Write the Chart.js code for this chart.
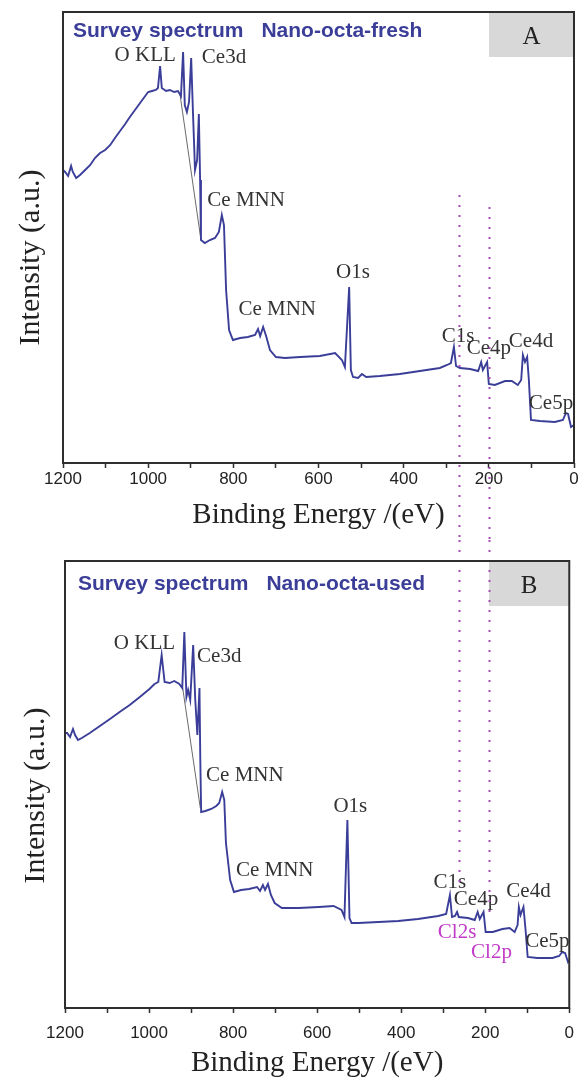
<!DOCTYPE html>
<html lang="en">
<head>
  <meta charset="UTF-8">
  <title>XPS survey spectra</title>
  <script src="https://cdn.jsdelivr.net/npm/chart.js"></script>
  <style>
    body { margin: 0; background: #fff; }
    .wrap { position: relative; width: 584px; height: 1085px; }
    canvas { position: absolute; left: 0; }
    #fresh { top: 0; }
    #used { top: 540px; }
  </style>
</head>
<body>
<div class="wrap">
  <canvas id="fresh" width="584" height="540"></canvas>
  <canvas id="used" width="584" height="545"></canvas>
</div>
<script>
// Survey spectrum, fresh sample: binding energy (eV) and intensity (a.u.)
const freshEnergy = [1200,1195,1188,1181,1177,1169,1160,1148,1136,1125,
  1113,1101,1089,1078,1066,1054,1043,1031,1019,1007,
  1000,991,982,977,972,968,958,949,939,930,
  923,918,914,909,904,899,895,890,885,881,
  878,876,867,855,843,834,827,822,817,810,
  801,784,766,749,742,737,730,723,714,700,
  679,643,597,561,545,538,528,524,519,507,
  498,488,456,409,362,315,298,289,282,277,
  268,244,225,218,214,204,200,186,162,146,
  132,124,120,115,110,106,101,80,45,26,
  19,14,7,0];
const freshCounts = [293,291,287,297,291,285,288,293,298,305,
  310,313,318,325,332,339,346,353,360,367,
  371,372,373,375,397,375,372,373,371,372,
  367,411,358,351,361,405,353,293,303,349,
  283,223,220,223,225,231,248,238,173,133,
  123,125,126,128,134,127,136,127,113,106,
  105,106,107,110,103,96,176,93,86,85,
  89,86,87,89,92,95,98,100,116,97,
  95,94,92,101,93,101,79,78,82,82,
  78,83,108,101,106,83,43,42,41,43,
  50,49,36,38];

// Survey spectrum, used sample
const usedEnergy = [1200,1195,1188,1181,1176,1169,1160,1141,1117,1093,
  1070,1046,1022,999,987,978,970,963,951,940,
  928,921,916,911,907,902,895,890,885,880,
  878,876,866,852,840,833,826,821,817,807,
  798,781,762,743,736,729,724,717,710,701,
  684,644,596,561,542,535,528,523,518,502,
  454,407,360,312,293,284,279,272,267,263,
  241,225,218,213,204,199,182,159,142,130,
  123,120,116,109,104,99,76,40,24,17,
  10,3,0];
const usedCounts = [275,275,271,279,273,268,270,275,282,289,
  296,303,311,319,324,326,353,326,325,327,
  324,320,376,311,318,308,363,308,273,320,
  248,196,197,199,202,205,216,208,165,128,
  116,118,119,121,117,123,118,124,113,105,
  100,100,101,102,98,91,188,90,85,85,
  86,87,89,92,94,113,91,92,96,91,
  90,88,96,89,96,76,76,79,80,76,
  83,101,93,101,78,51,50,50,52,56,
  55,46,48];

// linear background under the Ce3d region
const freshBgEnergy = [925, 876];
const freshBgCounts = [368, 223];
const usedBgEnergy = [921, 878];
const usedBgCounts = [323, 200];

// x axis ticks every 100 eV, labelled every 200 eV
const tickEnergies = [1200,1100,1000,900,800,700,600,500,400,300,200,100,0];
const tickLabels = ['1200','','1000','','800','','600','','400','','200','','0'];

// Cl 2s / Cl 2p reference positions (eV)
const clEnergies = [270, 200];

// peak labels, anchored in energy / intensity units
const freshPeaks = [
  { text: 'O KLL', e: 1007, v: 408 },
  { text: 'Ce3d', e: 822, v: 406 },
  { text: 'Ce MNN', e: 770, v: 263 },
  { text: 'O1s', e: 519, v: 191 },
  { text: 'Ce MNN', e: 697, v: 154 },
  { text: 'C1s', e: 272, v: 127 },
  { text: 'Ce4p', e: 200, v: 115 },
  { text: 'Ce4d', e: 101, v: 122 },
  { text: 'Ce5p', e: 54, v: 60 }
];
const usedPeaks = [
  { text: 'O KLL', e: 1011, v: 365 },
  { text: 'Ce3d', e: 833, v: 352 },
  { text: 'Ce MNN', e: 772, v: 233 },
  { text: 'O1s', e: 521, v: 202 },
  { text: 'Ce MNN', e: 701, v: 138 },
  { text: 'C1s', e: 284, v: 126 },
  { text: 'Ce4p', e: 222, v: 109 },
  { text: 'Ce4d', e: 97, v: 117 },
  { text: 'Ce5p', e: 52, v: 67 },
  { text: 'Cl2s', e: 267, v: 76, color: '#c23ac9' },
  { text: 'Cl2p', e: 185, v: 56, color: '#c23ac9' }
];

const LINE = '#3b3e98';
const INK = '#2e2e2e';
const SERIF = '"Liberation Serif", "Times New Roman", serif';
const SANS = '"Liberation Sans", Arial, sans-serif';

const toPoints = (xs, ys) => xs.map((e, i) => ({ x: e, y: ys[i] }));

// x pixel of each Cl line; the lower panel reuses the upper panel's
// positions so each line runs straight through both
const refPixels = (chart, o) =>
  clEnergies.map(e => o.refX ? o.refX[clEnergies.indexOf(e)] : chart.scales.x.getPixelForValue(e));

// annotations, tag box, dotted Cl lines and the frame
const decor = {
  id: 'decor',
  beforeDatasetsDraw(chart, args, o) {
    const { ctx, chartArea: a } = chart;
    const bx = Math.round(refPixels(chart, o)[1]);
    ctx.save();
    ctx.fillStyle = '#d8d8d8';
    ctx.fillRect(bx, a.top, a.right - bx, 45);
    ctx.fillStyle = '#222';
    ctx.font = '25px ' + SERIF;
    ctx.textAlign = 'center';
    ctx.textBaseline = 'middle';
    ctx.fillText(o.tag, (bx + a.right) / 2, a.top + 25);
    ctx.restore();
  },
  afterDatasetsDraw(chart, args, o) {
    const { ctx, chartArea: a, scales: { x, y } } = chart;
    ctx.save();

    // panel heading
    ctx.fillStyle = LINE;
    ctx.font = 'bold 21px ' + SANS;
    ctx.textAlign = 'left';
    ctx.textBaseline = 'alphabetic';
    ctx.fillText('Survey spectrum', a.left + o.headDx, a.top + o.headDy);
    const w = ctx.measureText('Survey spectrum').width;
    ctx.fillText(o.sample, a.left + o.headDx + w + 18, a.top + o.headDy);

    // peak assignments
    ctx.font = '21px ' + SERIF;
    ctx.textAlign = 'center';
    ctx.textBaseline = 'middle';
    o.peaks.forEach(p => {
      ctx.fillStyle = p.color || '#333';
      ctx.fillText(p.text, x.getPixelForValue(p.e), y.getPixelForValue(p.v));
    });

    // dotted Cl reference lines
    ctx.strokeStyle = '#a64db5';
    ctx.lineWidth = 2;
    ctx.setLineDash([2, 8]);
    refPixels(chart, o).forEach((xp, i) => {
      const px = Math.round(xp) + 0.5;
      const y0 = o.refFrom ? y.getPixelForValue(o.refFrom[i]) : 0;
      const y1 = o.refTo ? y.getPixelForValue(o.refTo[i]) : chart.height;
      ctx.beginPath();
      ctx.moveTo(px, y0);
      ctx.lineTo(px, y1);
      ctx.stroke();
    });
    ctx.setLineDash([]);

    // frame
    ctx.strokeStyle = INK;
    ctx.lineWidth = 2;
    ctx.strokeRect(a.left, a.top, a.right - a.left, a.bottom - a.top);

    // y axis title
    ctx.fillStyle = '#222';
    ctx.font = '30px ' + SERIF;
    ctx.textAlign = 'center';
    ctx.textBaseline = 'alphabetic';
    ctx.translate(o.yTitleX, (a.top + a.bottom) / 2 + o.yTitleShift);
    ctx.rotate(-Math.PI / 2);
    ctx.fillText('Intensity (a.u.)', 0, 0);
    ctx.restore();
  }
};

function makePanel(id, p) {
  return new Chart(document.getElementById(id), {
    type: 'line',
    data: {
      datasets: [
        {
          data: toPoints(p.energy, p.counts),
          borderColor: LINE,
          borderWidth: 1.9,
          pointRadius: 0,
          tension: 0
        },
        {
          data: toPoints(p.bgEnergy, p.bgCounts),
          borderColor: '#444',
          borderWidth: 0.8,
          pointRadius: 0
        }
      ]
    },
    options: {
      responsive: false,
      animation: false,
      events: [],
      layout: { padding: { top: p.padTop, right: p.padRight, left: 0, bottom: 0 } },
      plugins: {
        legend: { display: false },
        tooltip: { enabled: false },
        decor: {
          tag: p.tag, sample: p.sample, peaks: p.peaks,
          headDx: p.headDx, headDy: p.headDy,
          refFrom: p.refFrom, refTo: p.refTo, refX: p.refX,
          yTitleX: p.yTitleX, yTitleShift: p.yTitleShift
        }
      },
      scales: {
        x: {
          type: 'linear',
          reverse: true,
          min: 0,
          max: 1200,
          afterBuildTicks: axis => { axis.ticks = tickEnergies.map(v => ({ value: v })); },
          afterFit: s => { s.height = p.xHeight; },
          ticks: {
            autoSkip: false,
            maxRotation: 0,
            padding: p.tickPad,
            color: '#222',
            font: { family: SANS, size: 17 },
            callback: v => tickLabels[tickEnergies.indexOf(v)]
          },
          grid: {
            drawOnChartArea: false,
            drawTicks: true,
            tickLength: 5,
            tickColor: INK,
            tickWidth: 1.5
          },
          border: { display: false },
          title: {
            display: true,
            text: 'Binding Energy /(eV)',
            color: '#222',
            font: { family: SERIF, size: 29 },
            padding: { top: 0, bottom: p.titlePad }
          }
        },
        y: {
          min: 0,
          max: p.yMax,
          afterFit: s => { s.width = p.yWidth; },
          ticks: { display: false },
          grid: { display: false },
          border: { display: false }
        }
      }
    },
    plugins: [decor]
  });
}

const freshChart = makePanel('fresh', {
  energy: freshEnergy, counts: freshCounts,
  bgEnergy: freshBgEnergy, bgCounts: freshBgCounts,
  peaks: freshPeaks, tag: 'A', sample: 'Nano-octa-fresh',
  yMax: 451, padTop: 12, padRight: 10, yWidth: 63, xHeight: 77,
  tickPad: 1, titlePad: 7.5,
  headDx: 10, headDy: 25,
  refFrom: [268, 256], refTo: null,
  yTitleX: 39, yTitleShift: 20
});

makePanel('used', {
  energy: usedEnergy, counts: usedCounts,
  bgEnergy: usedBgEnergy, bgCounts: usedBgCounts,
  peaks: usedPeaks, tag: 'B', sample: 'Nano-octa-used',
  yMax: 447, padTop: 21, padRight: 12, yWidth: 65, xHeight: 77,
  tickPad: 10, titlePad: 4.5,
  headDx: 13, headDy: 29,
  refFrom: null, refTo: [118, 92],
  refX: clEnergies.map(e => freshChart.scales.x.getPixelForValue(e)),
  yTitleX: 44, yTitleShift: 11
});
</script>
</body>
</html>
